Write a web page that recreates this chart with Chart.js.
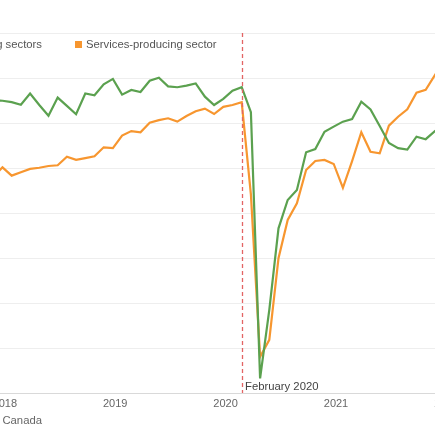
<!DOCTYPE html>
<html>
<head>
<meta charset="utf-8">
<script src="https://cdn.jsdelivr.net/npm/chart.js@4.4.1/dist/chart.umd.min.js"></script>
<style>
  html, body { margin: 0; padding: 0; background: #fff; }
  #wrap { position: relative; width: 435px; height: 435px; overflow: hidden; }
</style>
</head>
<body>
<div id="wrap"><canvas id="chart"></canvas></div>
<script>
// monthly series, Nov 2017 - Dec 2021 (left/right ends run past the visible frame)
const months = [
  '2017-11','2017-12',
  '2018-01','2018-02','2018-03','2018-04','2018-05','2018-06','2018-07','2018-08','2018-09','2018-10','2018-11','2018-12',
  '2019-01','2019-02','2019-03','2019-04','2019-05','2019-06','2019-07','2019-08','2019-09','2019-10','2019-11','2019-12',
  '2020-01','2020-02','2020-03','2020-04','2020-05','2020-06','2020-07','2020-08','2020-09','2020-10','2020-11','2020-12',
  '2021-01','2021-02','2021-03','2021-04','2021-05','2021-06','2021-07','2021-08','2021-09','2021-10','2021-11','2021-12'
];

const goods = [
  99.02, 98.99,
  98.93, 98.81, 99.31, 98.80, 98.32, 99.13, 98.76, 98.39, 99.31, 99.23, 99.72, 99.96,
  99.26, 99.47, 99.38, 99.88, 100.01, 99.63, 99.59, 99.66, 99.76, 99.17, 98.80, 99.07,
  99.44, 99.59, 98.48, 86.65, 89.69, 93.32, 94.58, 95.02, 96.70, 96.84, 97.61, 97.84,
  98.06, 98.18, 98.95, 98.60, 97.87, 97.11, 96.88, 96.82, 97.39, 97.28, 97.64, 97.91
];

const services = [
  95.60, 96.03,
  95.66, 95.81, 95.96, 96.01, 96.09, 96.12, 96.50, 96.36, 96.44, 96.52, 96.92, 96.88,
  97.44, 97.64, 97.59, 98.01, 98.13, 98.21, 98.06, 98.31, 98.52, 98.64, 98.40, 98.72,
  98.80, 98.92, 94.83, 87.61, 88.36, 91.99, 93.69, 94.43, 95.91, 96.31, 96.36, 96.18,
  95.12, 96.31, 97.59, 96.72, 96.65, 97.88, 98.28, 98.61, 99.35, 99.47, 100.13, 100.71
];

const yearLabels = ['2018', '2019', '2020', '2021', '2022'];
const markerMonth = '2020-02';
const markerLabel = 'February 2020';
const seriesNames = ['Goods-producing sectors', 'Services-producing sector'];
const sourceText = 'Source: Statistics Canada';

const GREEN = '#5ba14f';
const ORANGE = '#f7962f';
const FONT = "'Liberation Sans', Arial, sans-serif";

// months counted from Jan 2017
const monthIndex = (m) => {
  const [y, mo] = m.split('-').map(Number);
  return (y - 2017) * 12 + (mo - 1);
};

const toPoints = (vals) => months.map((m, k) => ({ x: monthIndex(m), y: vals[k] }));

const overlay = {
  id: 'overlay',
  afterDraw(chart) {
    const { ctx, chartArea, scales } = chart;
    const x = scales.x;
    ctx.save();

    // event marker
    const mx = Math.round(x.getPixelForValue(monthIndex(markerMonth))) + 0.5;
    ctx.strokeStyle = '#e36464';
    ctx.lineWidth = 1.3;
    ctx.setLineDash([4, 3]);
    ctx.beginPath();
    ctx.moveTo(mx, chartArea.top);
    ctx.lineTo(mx, chartArea.bottom);
    ctx.stroke();
    ctx.setLineDash([]);
    ctx.fillStyle = '#444';
    ctx.font = '11.3px ' + FONT;
    ctx.textAlign = 'left';
    ctx.textBaseline = 'alphabetic';
    ctx.fillText(markerLabel, mx + 2.5, chartArea.bottom - 3);

    // year labels (ticks on Jan 1, points sit late in each month)
    ctx.fillStyle = '#666';
    ctx.textAlign = 'center';
    ctx.textBaseline = 'middle';
    ctx.font = '11px ' + FONT;
    yearLabels.forEach((yr) => {
      const px = x.getPixelForValue(monthIndex(yr + '-01') - 0.75);
      ctx.fillText(yr, px, chartArea.bottom + 10.5);
    });

    // legend inside the plot
    ctx.font = '11.3px ' + FONT;
    ctx.textBaseline = 'middle';
    const ly = chartArea.top + 11.5;
    ctx.fillStyle = ORANGE;
    ctx.fillRect(75, ly - 3.5, 7, 7);
    ctx.fillStyle = '#555';
    ctx.textAlign = 'left';
    ctx.fillText(seriesNames[1], 86, ly);
    ctx.textAlign = 'right';
    ctx.fillText(seriesNames[0], 42, ly);
    const gw = ctx.measureText(seriesNames[0]).width;
    ctx.fillStyle = GREEN;
    ctx.fillRect(42 - gw - 11, ly - 3.5, 7, 7);

    // source
    ctx.fillStyle = '#666';
    ctx.textAlign = 'right';
    ctx.fillText(sourceText, 42, chartArea.bottom + 28);
    ctx.restore();
  }
};

new Chart(document.getElementById('chart'), {
  type: 'line',
  data: {
    datasets: [
      {
        label: seriesNames[0],
        data: toPoints(goods),
        borderColor: GREEN,
        backgroundColor: GREEN,
        borderWidth: 2.2,
        pointRadius: 0,
        tension: 0,
        clip: { left: 0, right: 0, top: false, bottom: false }
      },
      {
        label: seriesNames[1],
        data: toPoints(services),
        borderColor: ORANGE,
        backgroundColor: ORANGE,
        borderWidth: 2.2,
        pointRadius: 0,
        tension: 0,
        clip: { left: 0, right: 0, top: false, bottom: false }
      }
    ]
  },
  options: {
    responsive: true,
    maintainAspectRatio: false,
    animation: false,
    layout: { padding: { top: 33, bottom: 42, left: 0, right: 0 } },
    plugins: {
      legend: { display: false },
      tooltip: { enabled: false }
    },
    scales: {
      x: {
        type: 'linear',
        min: 10.73,
        max: 58.01,
        grid: { display: false, drawTicks: false },
        border: { display: true, color: '#d9d9d9', width: 1 },
        ticks: { display: false }
      },
      y: {
        min: 86,
        max: 102,
        grid: { color: '#eeeeee', drawTicks: false },
        border: { display: false },
        ticks: { display: false, stepSize: 2 }
      }
    }
  },
  plugins: [overlay]
});
</script>
</body>
</html>
